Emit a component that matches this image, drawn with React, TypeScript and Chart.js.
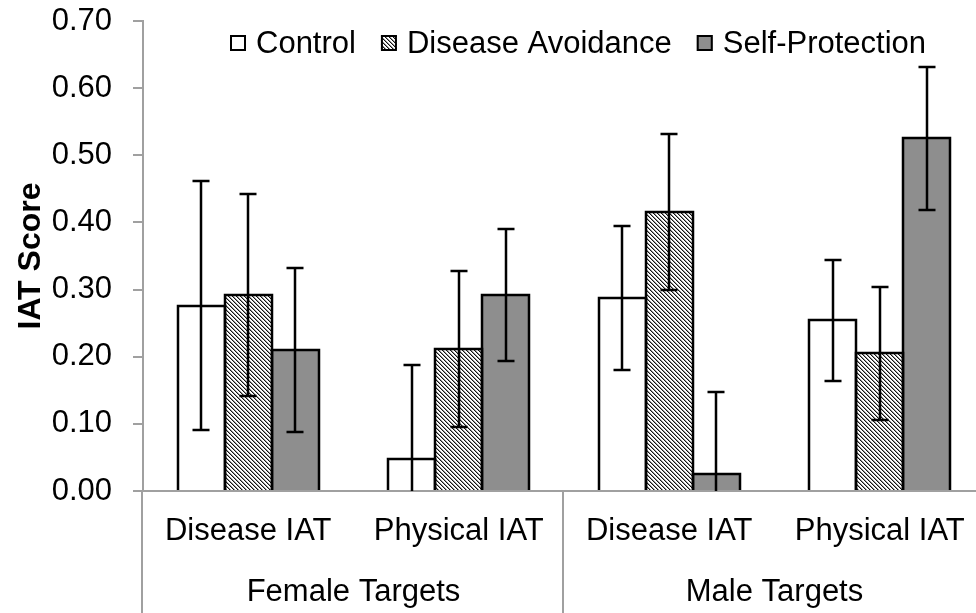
import React, { useEffect, useRef } from "react";
import { Chart, registerables } from "chart.js";

Chart.register(...registerables);

const FONT = "'Liberation Sans', Arial, Helvetica, sans-serif";
const FS = 31;

const categories = ["Disease IAT", "Physical IAT", "Disease IAT", "Physical IAT"];
const groups = ["Female Targets", "Male Targets"];
const groupSize = 2;
const seriesNames = ["Control", "Disease Avoidance", "Self-Protection"];
const controlValues = [0.276, 0.048, 0.287, 0.254];
const diseaseAvoidanceValues = [0.292, 0.212, 0.415, 0.205];
const selfProtectionValues = [0.21, 0.292, 0.025, 0.525];
const controlErrors = [0.185, 0.139, 0.107, 0.09];
const diseaseAvoidanceErrors = [0.151, 0.116, 0.116, 0.099];
const selfProtectionErrors = [0.122, 0.098, 0.122, 0.106];
const yMin = 0;
const yMax = 0.7;
const yStep = 0.1;

function makeHatch(): CanvasPattern | string {
  const c = document.createElement("canvas");
  c.width = 4;
  c.height = 4;
  const g = c.getContext("2d");
  if (!g) return "#888";
  const img = g.createImageData(4, 4);
  for (let y = 0; y < 4; y++) {
    for (let x = 0; x < 4; x++) {
      const k = (((x - y) % 4) + 4) % 4;
      let v = 255;
      if (k === 0) v = 20;
      else if (k === 1) v = 150;
      const i = (y * 4 + x) * 4;
      img.data[i] = v;
      img.data[i + 1] = v;
      img.data[i + 2] = v;
      img.data[i + 3] = 255;
    }
  }
  g.putImageData(img, 0, 0);
  const p = g.createPattern(c, "repeat");
  return p || "#888";
}

const outlineAndErrorPlugin = {
  id: "outlineAndError",
  afterDatasetsDraw(chart: any) {
    const ctx = chart.ctx as CanvasRenderingContext2D;
    const yScale = chart.scales.y;
    const area = chart.chartArea;
    ctx.save();
    ctx.lineWidth = 2.5;
    ctx.strokeStyle = "#000";
    ctx.lineJoin = "miter";
    ctx.lineCap = "butt";
    chart.data.datasets.forEach((ds: any, i: number) => {
      const meta = chart.getDatasetMeta(i);
      meta.data.forEach((bar: any) => {
        const p = bar.getProps(["x", "y", "base", "width"], true);
        const l = Math.round(p.x - p.width / 2);
        const r = Math.round(p.x + p.width / 2);
        const t = Math.round(p.y);
        ctx.beginPath();
        ctx.moveTo(l, p.base);
        ctx.lineTo(l, t);
        ctx.lineTo(r, t);
        ctx.lineTo(r, p.base);
        ctx.stroke();
      });
    });
    ctx.beginPath();
    ctx.rect(0, 0, chart.width, area.bottom);
    ctx.clip();
    chart.data.datasets.forEach((ds: any, i: number) => {
      const meta = chart.getDatasetMeta(i);
      const errs: number[] = ds.errors;
      meta.data.forEach((bar: any, j: number) => {
        const v = ds.data[j] as number;
        const hi = v + errs[j];
        const lo = v - errs[j];
        const px = Math.round(bar.x);
        const pyHi = Math.round(yScale.getPixelForValue(hi));
        const pyLo = lo >= 0 ? Math.round(yScale.getPixelForValue(lo)) : area.bottom + 2;
        ctx.beginPath();
        ctx.moveTo(px, pyHi);
        ctx.lineTo(px, pyLo);
        ctx.moveTo(px - 8.5, pyHi);
        ctx.lineTo(px + 8.5, pyHi);
        if (lo >= 0) {
          ctx.moveTo(px - 8.5, pyLo);
          ctx.lineTo(px + 8.5, pyLo);
        }
        ctx.stroke();
      });
    });
    ctx.restore();
  },
};

const groupAxisPlugin = {
  id: "groupAxis",
  afterDraw(chart: any) {
    const ctx = chart.ctx as CanvasRenderingContext2D;
    const xScale = chart.scales.x;
    const area = chart.chartArea;
    const catW = xScale.getPixelForValue(1) - xScale.getPixelForValue(0);
    ctx.save();
    ctx.strokeStyle = "#a0a0a0";
    ctx.lineWidth = 2;
    const bounds: number[] = [];
    for (let g = 0; g <= groups.length; g++) {
      const idx = g * groupSize;
      bounds.push(xScale.getPixelForValue(0) + (idx - 0.5) * catW);
    }
    bounds.forEach((bx, k) => {
      const x = k === 0 ? area.left - 1 : Math.round(bx) - 1;
      ctx.beginPath();
      ctx.moveTo(x, area.bottom);
      ctx.lineTo(x, chart.height);
      ctx.stroke();
    });
    ctx.fillStyle = "#000";
    ctx.font = `${FS}px ${FONT}`;
    ctx.textAlign = "center";
    ctx.textBaseline = "middle";
    groups.forEach((name, g) => {
      const cx = (bounds[g] + bounds[g + 1]) / 2;
      ctx.fillText(name, cx, area.bottom + 101);
    });
    ctx.restore();
  },
};

const legendPlugin = {
  id: "customLegend",
  afterDraw(chart: any) {
    const ctx = chart.ctx as CanvasRenderingContext2D;
    const area = chart.chartArea;
    ctx.save();
    ctx.font = `${FS}px ${FONT}`;
    ctx.textBaseline = "middle";
    ctx.textAlign = "left";
    let x = area.left + 87;
    const cy = area.top + 22;
    chart.data.datasets.forEach((ds: any) => {
      ctx.fillStyle = ds.backgroundColor;
      ctx.fillRect(x, cy - 8, 16, 16);
      ctx.strokeStyle = "#000";
      ctx.lineWidth = 2;
      ctx.strokeRect(x + 1, cy - 7, 14, 14);
      ctx.fillStyle = "#000";
      ctx.fillText(ds.label, x + 26, cy + 1);
      x += 26 + ctx.measureText(ds.label).width + 25;
    });
    ctx.restore();
  },
};

export default function App() {
  const ref = useRef<HTMLCanvasElement>(null);
  useEffect(() => {
    const canvas = ref.current;
    if (!canvas) return;
    const hatch = makeHatch();
    const chart = new Chart(canvas, {
      type: "bar",
      data: {
        labels: categories,
        datasets: [
          { label: seriesNames[0], data: controlValues, errors: controlErrors, backgroundColor: "#ffffff" } as any,
          { label: seriesNames[1], data: diseaseAvoidanceValues, errors: diseaseAvoidanceErrors, backgroundColor: hatch } as any,
          { label: seriesNames[2], data: selfProtectionValues, errors: selfProtectionErrors, backgroundColor: "#8e8e8e" } as any,
        ],
      },
      options: {
        responsive: false,
        animation: false,
        devicePixelRatio: 1,
        layout: { padding: { top: 21, right: 1, left: 0, bottom: 0 } },
        datasets: {
          bar: {
            categoryPercentage: 0.67,
            barPercentage: 1,
            borderWidth: 0,
            inflateAmount: 0,
          },
        } as any,
        plugins: {
          legend: { display: false },
          tooltip: { enabled: false },
        },
        scales: {
          x: {
            type: "category",
            offset: true,
            z: 1,
            grid: { display: false, drawTicks: false, drawOnChartArea: false },
            border: { display: true, color: "#a0a0a0", width: 2 },
            ticks: {
              color: "#000",
              font: { family: FONT, size: FS },
              padding: 22,
              maxRotation: 0,
              minRotation: 0,
              autoSkip: false,
            },
            afterFit: (s: any) => {
              s.height = 122;
              s.paddingLeft = 0;
              s.paddingRight = 0;
            },
          },
          y: {
            min: yMin,
            max: yMax,
            z: 1,
            grid: {
              display: true,
              drawOnChartArea: false,
              drawTicks: true,
              tickLength: 10,
              color: "#a0a0a0",
              lineWidth: 2,
            },
            border: { display: true, color: "#a0a0a0", width: 2 },
            ticks: {
              stepSize: yStep,
              color: "#000",
              font: { family: FONT, size: FS },
              padding: 21,
              callback: (v: any) => Number(v).toFixed(2),
            },
            title: {
              display: true,
              text: "IAT Score",
              color: "#000",
              font: { family: FONT, size: 32, weight: "bold" },
              padding: { top: 12, bottom: 0 },
            },
            afterFit: (s: any) => {
              s.width = 143;
              s.paddingTop = 0;
              s.paddingBottom = 0;
            },
          },
        },
      },
      plugins: [outlineAndErrorPlugin, groupAxisPlugin, legendPlugin],
    });
    return () => chart.destroy();
  }, []);
  return (
    <div
      style={{
        position: "fixed",
        left: 0,
        top: 0,
        width: 976,
        height: 613,
        overflow: "hidden",
        background: "#fff",
      }}
    >
      <canvas ref={ref} width={986} height={613} style={{ display: "block" }} />
    </div>
  );
}
